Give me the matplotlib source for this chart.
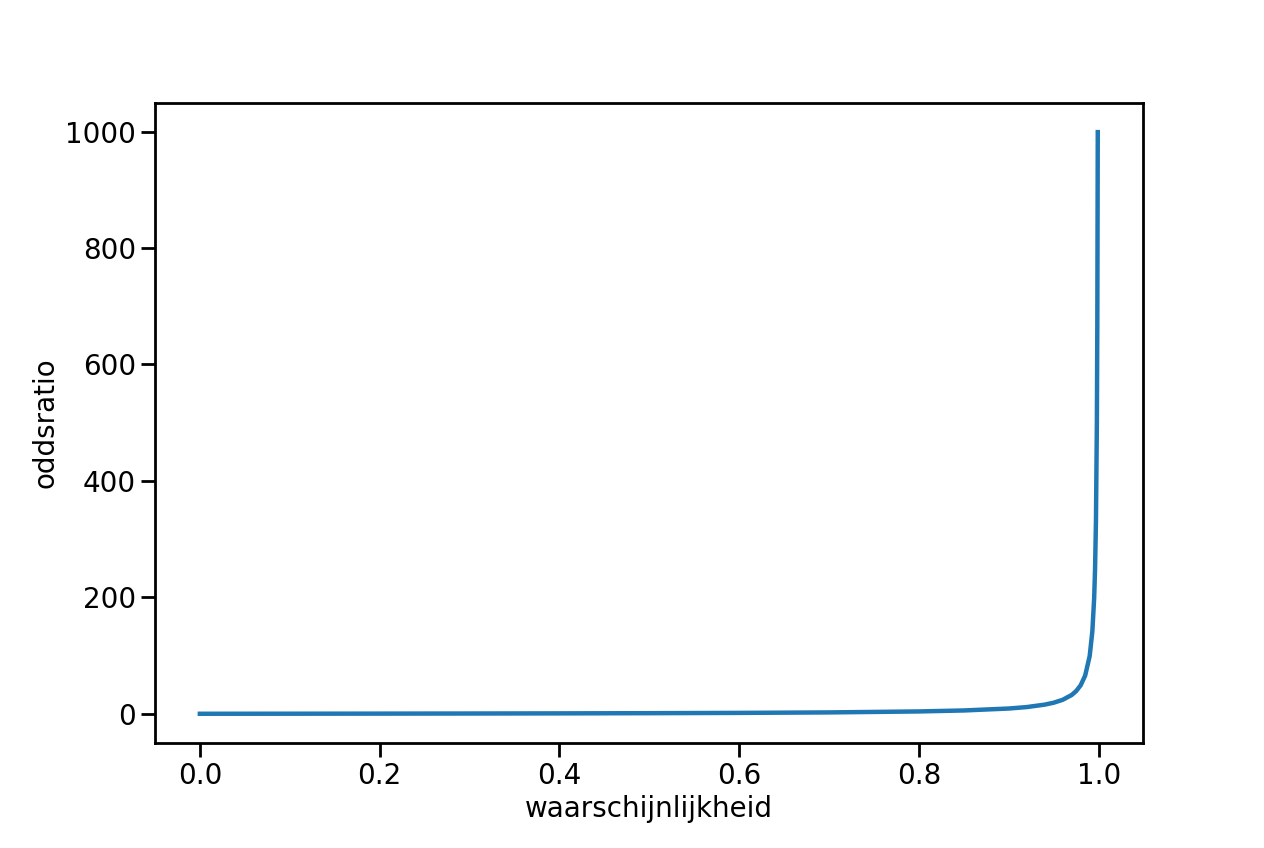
import matplotlib
matplotlib.use("Agg")
import matplotlib.pyplot as plt

# probabilities and odds
waarschijnlijkheid = [0.0, 0.1, 0.2, 0.3, 0.4, 0.5, 0.6, 0.7, 0.8, 0.85, 0.9, 0.92,
                      0.94, 0.95, 0.96, 0.97, 0.975, 0.98, 0.985, 0.99, 0.993,
                      0.995, 0.996, 0.997, 0.998, 0.9985, 0.999]
oddsratio = [0.0, 0.11, 0.25, 0.43, 0.67, 1.0, 1.5, 2.33, 4.0, 5.67, 9.0, 11.5,
             15.7, 19.0, 24.0, 32.3, 39.0, 49.0, 65.7, 99.0, 141.9,
             199.0, 249.0, 332.3, 499.0, 665.7, 999.0]

plt.rcParams['font.size'] = 20
fig = plt.figure(figsize=(12.64, 8.48), dpi=100)
ax = fig.add_axes([0.1226, 0.124, 0.7814, 0.7545])
ax.plot(waarschijnlijkheid, oddsratio, color='#1f77b4', linewidth=3.2)
ax.set_xlabel('waarschijnlijkheid')
ax.set_ylabel('oddsratio')
for s in ax.spines.values():
    s.set_linewidth(2)
ax.tick_params(width=2, length=10)
fig.savefig('out.png', dpi=100)
